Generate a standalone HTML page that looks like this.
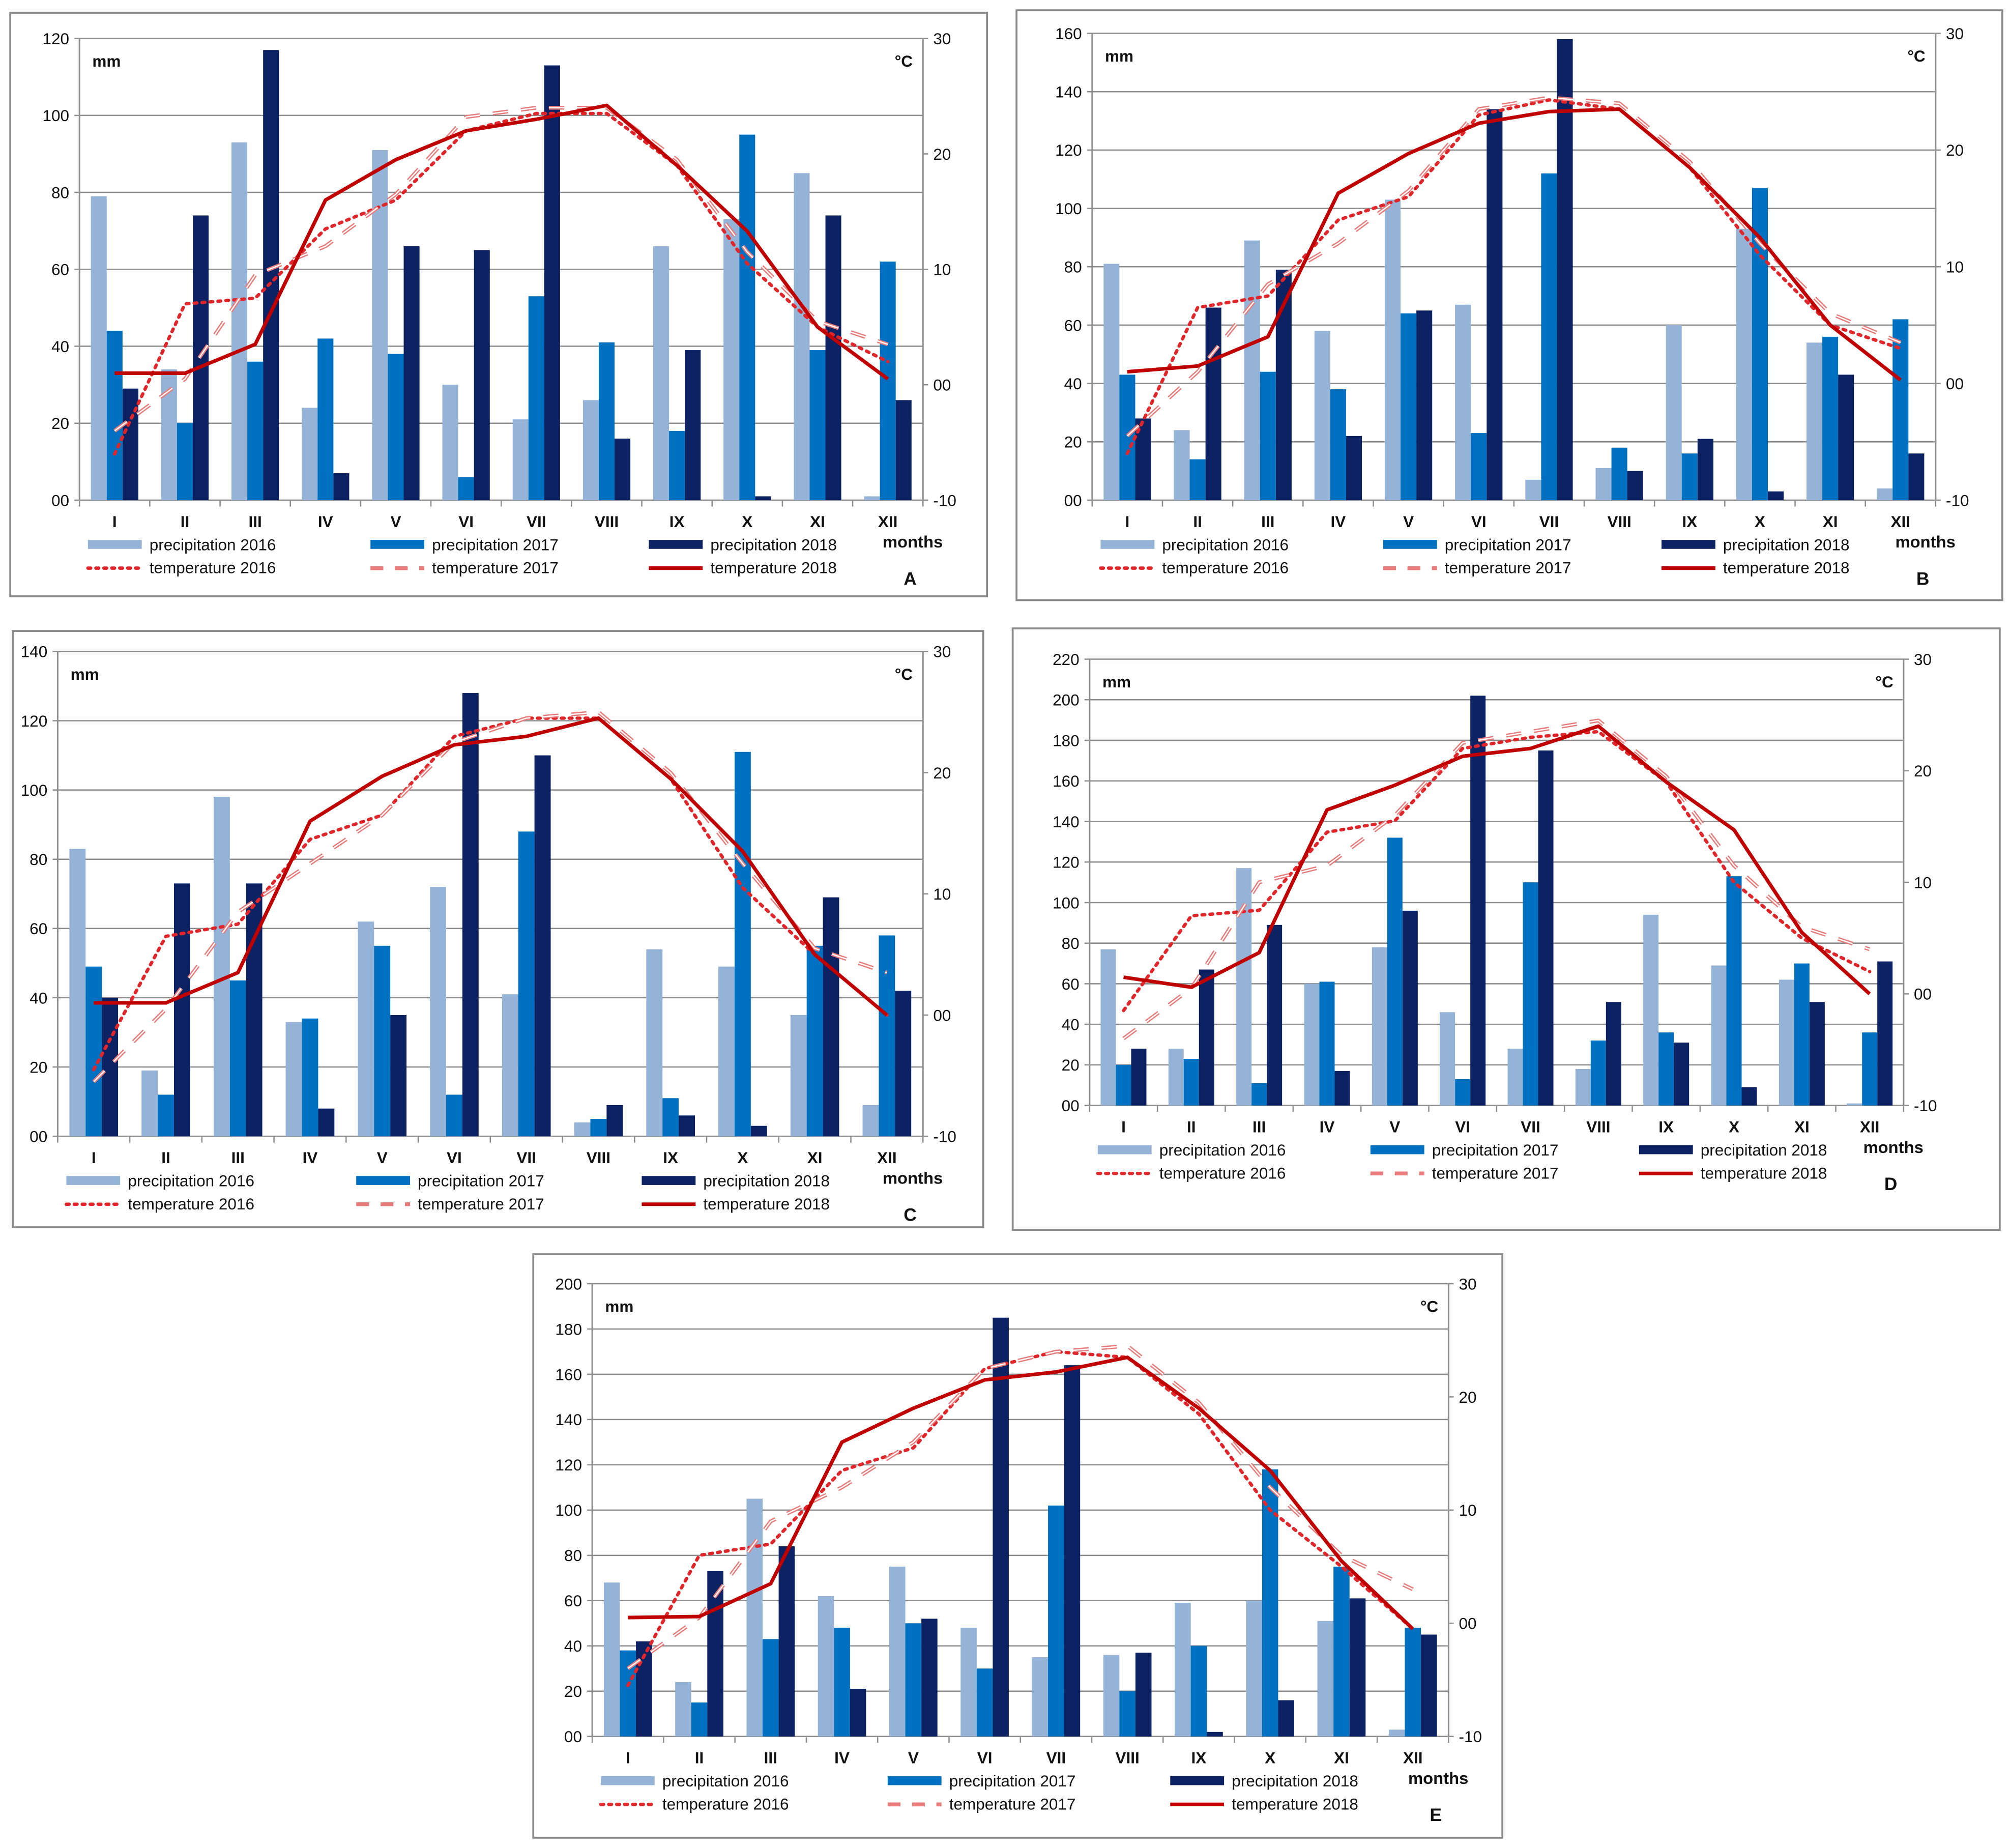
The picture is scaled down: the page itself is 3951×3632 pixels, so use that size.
<!DOCTYPE html>
<html><head><meta charset="utf-8">
<style>
html,body{margin:0;padding:0;background:#fff;}
svg{display:block;}
text{font-family:"Liberation Sans",Arial,sans-serif;fill:#111;}
</style></head>
<body>
<svg id="root" width="3951" height="3632" viewBox="0 0 1568 1441" preserveAspectRatio="none" xmlns="http://www.w3.org/2000/svg"></svg>
<script>
const months = ["I","II","III","IV","V","VI","VII","VIII","IX","X","XI","XII"];
const rightTicks = ["30","20","10","00","-10"];
// Panel A
const pA16 = [79,34,93,24,91,30,21,26,66,73,85,1];
const pA17 = [44,20,36,42,38,6,53,41,18,95,39,62];
const pA18 = [29,74,117,7,66,65,113,16,39,1,74,26];
const tA16 = [-6,7,7.5,13.5,16,22,23.5,23.5,19,10.5,5,2];
const tA17 = [-4,0.5,9.5,12,16.5,23.2,24,24,19.5,11.5,5.5,3.5];
const tA18 = [1,1,3.5,16,19.5,22,23,24.2,19,13.3,5,0.5];
// Panel B
const pB16 = [81,24,89,58,103,67,7,11,60,93,54,4];
const pB17 = [43,14,44,38,64,23,112,18,16,107,56,62];
const pB18 = [28,66,79,22,65,134,158,10,21,3,43,16];
const tB16 = [-6,6.5,7.5,14,16,23,24.3,23.5,18.5,11,5,3];
const tB17 = [-4.5,1,8.5,12,16.5,23.5,24.5,24,19,12,6,3.5];
const tB18 = [1,1.5,4,16.3,19.7,22.3,23.3,23.5,18.5,12.5,5,0.3];
// Panel C
const pC16 = [83,19,98,33,62,72,41,4,54,49,35,9];
const pC17 = [49,12,45,34,55,12,88,5,11,111,55,58];
const pC18 = [40,73,73,8,35,128,110,9,6,3,69,42];
const tC16 = [-4.5,6.5,7.5,14.5,16.5,23,24.5,24.5,19.5,10.5,5,0];
const tC17 = [-5.5,0.5,8.5,12.5,16.5,22.5,24.5,25,20,12.5,5.5,3.5];
const tC18 = [1,1,3.5,16,19.7,22.3,23,24.5,19.5,13.5,5,0];
// Panel D
const pD16 = [77,28,117,60,78,46,28,18,94,69,62,1];
const pD17 = [20,23,11,61,132,13,110,32,36,113,70,36];
const pD18 = [28,67,89,17,96,202,175,51,31,9,51,71];
const tD16 = [-1.5,7,7.5,14.5,15.5,22,23,23.5,19,10,5,2];
const tD17 = [-4,0.5,10,11.5,16,22.5,23.5,24.5,19.5,11.5,6,4];
const tD18 = [1.5,0.6,3.7,16.5,18.7,21.3,22,24,19,14.7,5.5,0];
// Panel E
const pE16 = [68,24,105,62,75,48,35,36,59,60,51,3];
const pE17 = [38,15,43,48,50,30,102,20,40,118,75,48];
const pE18 = [42,73,84,21,52,185,164,37,2,16,61,45];
const tE16 = [-5.5,6,7,13.5,15.5,22.5,24,23.5,18.5,10,5,-0.5];
const tE17 = [-4,0.5,9,12,16,22.5,24,24.5,19.5,12,6,3];
const tE18 = [0.5,0.6,3.5,16,19,21.5,22.2,23.5,19,13.5,5.5,-0.5];

const panels = [
 {id:"a",letter:"A",box:[8,10,762,455],L:62,R:720,T:30,B:390,pmax:120,pstep:20,p:[pA16,pA17,pA18],t:[tA16,tA17,tA18]},
 {id:"b",letter:"B",box:[793,8,769,460],L:852,R:1510,T:26,B:390,pmax:160,pstep:20,p:[pB16,pB17,pB18],t:[tB16,tB17,tB18]},
 {id:"c",letter:"C",box:[10,492,757,465],L:45,R:720,T:508,B:886,pmax:140,pstep:20,p:[pC16,pC17,pC18],t:[tC16,tC17,tC18]},
 {id:"d",letter:"D",box:[790,490,770,469],L:850,R:1485,T:514,B:862,pmax:220,pstep:20,p:[pD16,pD17,pD18],t:[tD16,tD17,tD18]},
 {id:"e",letter:"E",box:[416,978,756,455],L:462,R:1130,T:1001,B:1354,pmax:200,pstep:20,p:[pE16,pE17,pE18],t:[tE16,tE17,tE18]}
];
const barColors = ["#95b3d7","#0070c0","#0c2262"];
const NS = "http://www.w3.org/2000/svg";
const root = document.getElementById("root");
function mk(tag, attrs, parent){const e=document.createElementNS(NS,tag);for(const k in attrs)e.setAttribute(k,attrs[k]);parent.appendChild(e);return e;}
function txt(s, attrs, parent){const e=mk("text",attrs,parent);e.textContent=s;return e;}

panels.forEach(P=>{
  const g = mk("g",{},root);
  
  
  const fr = mk("rect",{x:P.box[0],y:P.box[1],width:P.box[2],height:P.box[3],fill:"#fff",stroke:"#8a8a8a","stroke-width":1.5},g);
  
  
  const W = P.R-P.L, step = W/12;
  const yP = v => P.B - v/P.pmax*(P.B-P.T);
  const yT = v => P.B - (v+10)/40*(P.B-P.T);
  const xM = i => P.L + step*(i+0.5);
  for(let v=0; v<=P.pmax; v+=P.pstep){
    const y=yP(v);
    const gl = mk("line",{x1:P.L-4,x2:P.R,y1:y,y2:y,stroke:"#8c8c8c","stroke-width":1},g);
    
    
    const tl = txt(v===0?"00":String(v),{x:P.L-8,y:y+4.5,"text-anchor":"end","font-size":12.5},g);
    
    
  }
  rightTicks.forEach((s,k)=>{
    const y = P.T + k*(P.B-P.T)/4;
    mk("line",{x1:P.R,x2:P.R+4,y1:y,y2:y,stroke:"#8c8c8c","stroke-width":1},g);
    const tr = txt(s,{x:P.R+8,y:y+4.5,"font-size":12.5},g);
    
    
  });
  mk("line",{x1:P.L,x2:P.L,y1:P.T,y2:P.B,stroke:"#8c8c8c","stroke-width":1.2},g);
  mk("line",{x1:P.R,x2:P.R,y1:P.T,y2:P.B,stroke:"#8c8c8c","stroke-width":1.2},g);
  for(let i=0;i<=12;i++){mk("line",{x1:P.L+step*i,x2:P.L+step*i,y1:P.B,y2:P.B+5,stroke:"#8c8c8c","stroke-width":1},g);}
  const bw = step*0.225;
  P.p.forEach((arr,s)=>{
    arr.forEach((v,i)=>{
      const x = xM(i) - 1.5*bw + s*bw;
      const r = mk("rect",{x:x,y:yP(v),width:bw,height:P.B-yP(v),fill:barColors[s]},g);
      
      
    });
  });
  const styles = [
    {stroke:"#e0262a","stroke-width":2.6,"stroke-dasharray":"2.2 4","stroke-linecap":"round"},
    {stroke:"#e77a7a","stroke-width":3,"stroke-dasharray":"12 10"},
    {stroke:"#c00000","stroke-width":2.8}
  ];
  P.t.forEach((arr,s)=>{
    const pts = arr.map((v,i)=>xM(i).toFixed(1)+","+yT(v).toFixed(1)).join(" ");
    const attrs = Object.assign({points:pts,fill:"none","stroke-linejoin":"round"},styles[s]);
    const pl = mk("polyline",attrs,g);
    
    
    if(s===1){const inner = mk("polyline",{points:pts,fill:"none",stroke:"#fff","stroke-width":1,"stroke-dasharray":"12 10"},g);
      
      }
  });
  months.forEach((m,i)=>{
    const t = txt(m,{x:xM(i),y:P.B+21,"text-anchor":"middle","font-size":12.5,"font-weight":"bold"},g);
    
    
  });
  const mmT = txt("mm",{x:P.L+10,y:P.T+22,"font-size":12.5,"font-weight":"bold"},g);
  
  
  const cT = txt("°C",{x:P.R-8,y:P.T+22,"text-anchor":"end","font-size":12.5,"font-weight":"bold"},g);
  
  
  const mo = txt("months",{x:P.R-8,y:P.B+37,"text-anchor":"middle","font-size":13,"font-weight":"bold"},g);
  
  
  const lt = txt(P.letter,{x:P.R-10,y:P.B+66,"text-anchor":"middle","font-size":14,"font-weight":"bold","font-family":"Liberation Serif, serif"},g);
  
  
  const cols=[0.01,0.345,0.675];
  const y1=P.B+39, y2=P.B+57;
  [0,1,2].forEach(s=>{
    const x0 = P.L + W*cols[s];
    const le = mk("g",{},g);
    
    
    mk("rect",{x:x0,y:y1-8,width:42,height:7,fill:barColors[s]},le);
    txt("precipitation "+(2016+s),{x:x0+48,y:y1,"font-size":12.5},le);
    const le2 = mk("g",{},g);
    
    
    const a = Object.assign({x1:x0,x2:x0+42,y1:y2-4,y2:y2-4},styles[s]);
    if(s===1)a["stroke-dasharray"]="10 9";
    mk("line",a,le2);
    txt("temperature "+(2016+s),{x:x0+48,y:y2,"font-size":12.5},le2);
  });
});
</script>
</body></html>
